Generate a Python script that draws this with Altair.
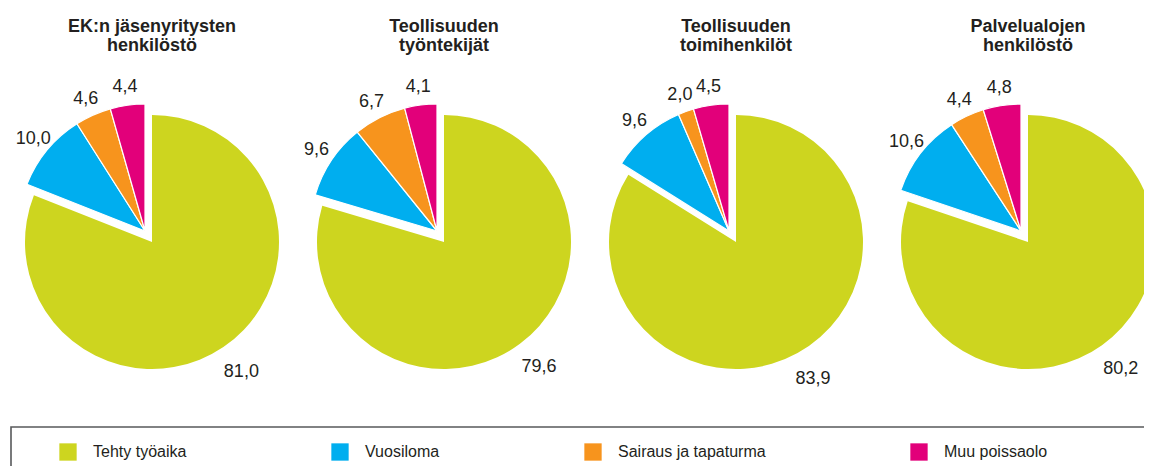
import altair as alt
import pandas as pd

# ---- data -------------------------------------------------------------
groups = [
    "EK:n jäsenyritysten henkilöstö",
    "Teollisuuden työntekijät",
    "Teollisuuden toimihenkilöt",
    "Palvelualojen henkilöstö",
]
title_lines = [
    ["EK:n jäsenyritysten", "henkilöstö"],
    ["Teollisuuden", "työntekijät"],
    ["Teollisuuden", "toimihenkilöt"],
    ["Palvelualojen", "henkilöstö"],
]
categories = ["Tehty työaika", "Vuosiloma", "Sairaus ja tapaturma", "Muu poissaolo"]
tehty = [81.0, 79.6, 83.9, 80.2]
vuosiloma = [10.0, 9.6, 9.6, 10.6]
sairaus = [4.6, 6.7, 2.0, 4.4]
muu = [4.4, 4.1, 4.5, 4.8]
colors = ["#CDD51F", "#00AEEF", "#F7941D", "#E2007A"]

series = [tehty, vuosiloma, sairaus, muu]
rows = []
for gi, g in enumerate(groups):
    for ci, c in enumerate(categories):
        rows.append({"group": g, "category": c, "order": ci, "value": series[ci][gi]})
df = pd.DataFrame(rows)
titles_df = pd.DataFrame({"group": groups, "title": ["\n".join(t) for t in title_lines]})

FONT = "Liberation Sans"
TEXT = "#231f20"

x_scale = alt.Scale(type="point", domain=groups, range=[144, 1020], padding=0)
theta_scale = alt.Scale(domain=[0, 100])
color_scale = alt.Scale(domain=categories, range=colors)

X = alt.X("group:N", scale=x_scale, axis=None)

base = (
    alt.Chart(df)
    .transform_stack(
        stack="value",
        groupby=["group"],
        as_=["v0", "v1"],
        sort=[alt.SortField(field="order", order="ascending")],
    )
    .transform_calculate(
        mid="(datum.v0 + datum.v1) / 2",
        label="replace(format(datum.value, '.1f'), '.', ',')",
    )
)
main = base.transform_filter(alt.datum.order == 0)
rest = base.transform_filter(alt.datum.order > 0)

arc_enc = dict(
    x=X,
    theta=alt.Theta("v0:Q", scale=theta_scale, stack=None),
    theta2="v1:Q",
    color=alt.Color("category:N", scale=color_scale, legend=alt.Legend(title=None)),
)
txt_enc = dict(
    x=X,
    theta=alt.Theta("mid:Q", scale=theta_scale, stack=None),
    text="label:N",
)

DX, DY = -7, -11  # explode offset of the small slices
Y0 = 5

green = main.mark_arc(outerRadius=127, yOffset=Y0).encode(**arc_enc)
others = rest.mark_arc(
    outerRadius=127, xOffset=DX, yOffset=Y0 + DY, stroke="white", strokeWidth=1.2
).encode(**arc_enc)
green_t = main.mark_text(
    radius=159, yOffset=Y0 - 2, fontSize=18, font=FONT, color=TEXT,
    align="center", baseline="middle",
).encode(**txt_enc)
others_t = rest.mark_text(
    radius=145, xOffset=DX, yOffset=Y0 + DY, fontSize=18, font=FONT, color=TEXT,
    align="center", baseline="middle",
).encode(**txt_enc)

titles = (
    alt.Chart(titles_df)
    .mark_text(
        y=23.5, baseline="alphabetic", align="center", lineBreak="\n", lineHeight=19,
        fontSize=18, fontWeight="bold", font=FONT, color=TEXT,
    )
    .encode(x=X, text="title:N")
)

frame = (
    alt.Chart(pd.DataFrame({"frame": [0]}))
    .mark_rect(fill=None, fillOpacity=0, stroke="#58595b", strokeWidth=1.6)
    .encode(x=alt.value(3), x2=alt.value(1400), y=alt.value(419), y2=alt.value(700))
)

chart = (
    alt.layer(frame, green, others, green_t, others_t, titles)
    .properties(
        width=1136,
        height=458,
        padding=0,
        autosize=alt.AutoSizeParams(type="none"),
    )
    .configure_view(stroke=None)
    .configure_legend(
        orient="none",
        legendX=51,
        legendY=435,
        direction="horizontal",
        columns=4,
        gridAlign="none",
        columnPadding=144,
        symbolType="square",
        symbolSize=300,
        symbolStrokeWidth=0,
        labelFontSize=16,
        labelFont=FONT,
        labelColor=TEXT,
        labelOffset=16,
        padding=0,
    )
)

chart.save("out.html", embed_options={"renderer": "svg", "actions": False})
